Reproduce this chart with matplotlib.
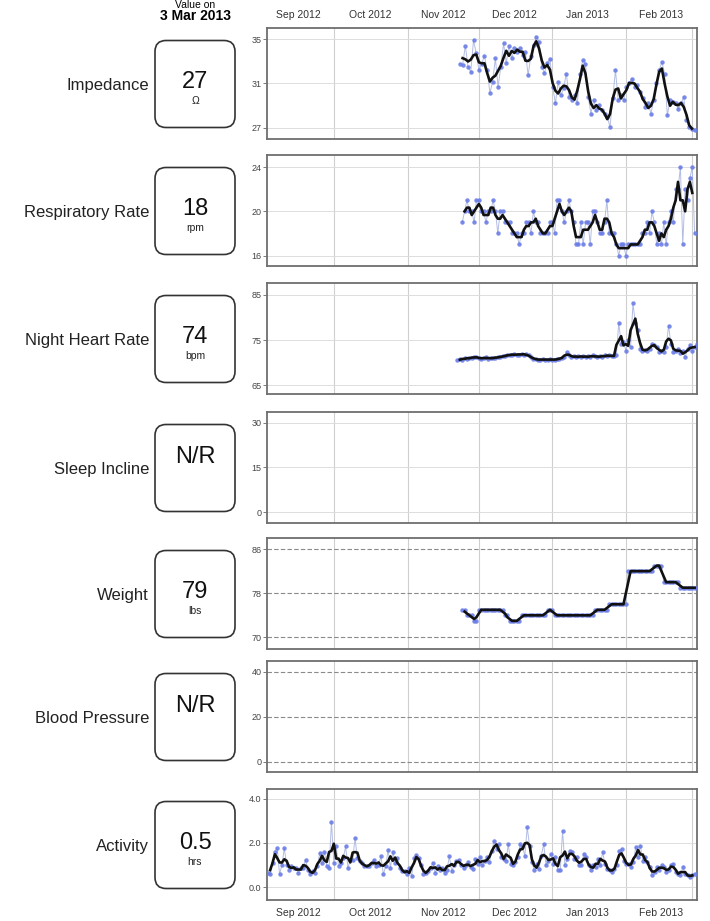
import numpy as np
import pandas as pd
import matplotlib
matplotlib.use('Agg')
import matplotlib.pyplot as plt
import matplotlib.dates as mdates
from matplotlib.ticker import NullFormatter, FormatStrFormatter
from matplotlib.patches import FancyBboxPatch

plt.rcParams['font.family'] = ['Liberation Sans', 'DejaVu Sans']

# ---- data ----
as_of = '3 Mar 2013'
names = ['Impedance', 'Respiratory Rate', 'Night Heart Rate', 'Sleep Incline',
         'Weight', 'Blood Pressure', 'Activity']
latest = ['27', '18', '74', 'N/R', '79', 'N/R', '0.5']
units = ['Ω', 'rpm', 'bpm', '', 'lbs', '', 'hrs']

impedance = [32.80, 32.65, 34.40, 32.50, 32.05, 34.91, 33.71, 32.20, 32.80, 33.47,
             32.20, 30.16, 31.15, 33.26, 30.70, 32.50, 34.61, 32.86, 34.37, 33.26,
             34.16, 33.86, 34.16, 33.56, 33.86, 31.75, 33.47, 34.46, 35.20, 34.76,
             32.50, 31.96, 32.86, 33.17, 30.70, 29.20, 31.15, 29.95, 30.55, 31.90,
             29.80, 29.50, 29.95, 29.20, 31.90, 33.11, 32.80, 29.80, 28.29, 29.50,
             28.59, 29.05, 28.59, 28.29, 27.99, 27.09, 29.65, 32.20, 29.50, 29.95,
             29.50, 30.70, 31.00, 31.45, 30.70, 30.85, 30.25, 29.65, 28.89, 29.20,
             28.29, 29.50, 31.00, 32.20, 32.95, 31.90, 28.14, 29.50, 29.35, 29.20,
             28.74, 29.20, 29.80, 27.69, 27.09, 26.94, 26.79]
impedance_span = ('2012-11-23', '2013-03-02')

resp_rate = [19, 20, 21, 20, 20, 19, 21, 21, 20, 20,
             19, 20, 20, 21, 20, 18, 20, 20, 19, 19,
             19, 18, 18, 18, 17, 18, 18, 19, 19, 18,
             20, 19, 19, 18, 18, 18, 18, 19, 19, 18,
             21, 21, 20, 19, 20, 21, 20, 19, 17, 17,
             19, 17, 19, 19, 17, 20, 20, 19, 18, 18,
             19, 21, 18, 18, 18, 17, 16, 17, 17, 16,
             17, 17, 17, 17, 17, 17, 18, 18, 19, 18,
             20, 19, 17, 18, 17, 19, 17, 19, 20, 19,
             22, 22, 24, 17, 22, 21, 23, 24, 18]
resp_span = ('2012-11-24', '2013-03-02')

night_hr = [70.5, 70.8, 70.7, 71.0, 70.9, 71.1, 71.0, 71.3, 71.2,
            71.1, 70.9, 71.0, 71.2, 70.9, 71.0, 71.1, 71.0, 71.3, 71.2, 71.4, 71.5,
            71.6, 71.8, 71.7, 71.9, 71.7, 71.8, 72.0, 71.7, 71.9, 71.6,
            71.2, 70.9, 70.8, 70.7, 70.6, 70.8, 70.7, 70.6, 70.8,
            70.7, 70.6, 70.8, 70.9, 71.0, 71.3, 72.4,
            71.6, 71.3, 71.5, 71.2, 71.4, 71.3, 71.5, 71.2, 71.4, 71.3, 71.6,
            71.4, 71.2, 71.5, 71.3, 71.6, 71.4, 71.7, 71.5, 71.4, 71.6,
            78.8, 74.2, 74.6, 72.7, 75.0, 73.5, 83.1, 78.8, 77.3, 73.1,
            72.7, 72.9, 72.6, 73.1, 74.2, 73.9, 73.5, 72.4, 72.7, 72.4,
            73.5, 78.2, 74.2, 72.4, 72.7, 73.1, 72.2, 72.6, 71.2, 73.1,
            73.9, 72.7, 73.5, 74.2]
night_hr_span = ('2012-11-22', '2013-03-03')

weight = [75, 75, 74, 74, 74, 73, 73,
          75, 75, 75, 75, 75, 75, 75, 75, 75, 75, 75,
          74, 74, 73, 73, 73, 73, 73,
          74, 74, 74, 74, 74, 74, 74, 74, 74, 74, 74,
          75, 75, 75,
          74, 74, 74, 74, 74, 74, 74, 74, 74, 74, 74, 74, 74, 74, 74, 74, 74,
          75, 75, 75, 75, 75, 75,
          76, 76, 76, 76, 76, 76, 76, 76,
          82, 82, 82, 82, 82, 82, 82, 82, 82, 82, 82,
          83, 83, 83, 83,
          80, 80, 80, 80, 80, 80, 80,
          79, 79, 79, 79, 79, 79, 79, 79]
weight_span = ('2012-11-24', '2013-03-03')

activity = [0.64, 0.57, 1.09, 1.61, 1.76, 0.57, 1.01, 1.76, 1.01, 0.79,
            0.94, 0.87, 0.87, 0.64, 0.87, 0.87, 1.24, 0.79, 0.57, 0.72,
            0.64, 0.94, 1.54, 1.09, 1.61, 0.94, 0.87, 2.96, 1.09, 1.84,
            0.94, 1.09, 1.31, 1.84, 0.87, 1.24, 1.24, 2.21, 1.31, 1.16,
            1.09, 0.94, 0.94, 0.94, 1.09, 1.24, 0.94, 1.01, 1.39, 0.57,
            0.94, 1.69, 0.87, 1.61, 1.09, 1.31, 0.87, 0.72, 0.72, 0.57,
            0.87, 0.49, 1.31, 1.46, 1.31, 1.01, 0.57, 0.64, 0.72, 0.87,
            1.09, 0.64, 0.94, 0.79, 0.87, 0.64, 0.79, 1.39, 0.72, 1.01,
            1.16, 1.24, 1.01, 0.87, 1.01,
            1.13, 0.90, 0.83, 1.28, 1.05, 1.35, 0.98, 1.20, 1.35, 1.13,
            1.65, 2.11, 1.73, 1.95, 1.35, 1.28, 1.20, 1.95, 1.05, 0.98,
            1.13, 1.35, 1.95, 1.80, 1.43, 2.71, 1.88, 1.13, 0.75, 1.05,
            0.83, 1.43, 1.95, 0.98, 1.20, 1.50, 1.05, 1.35, 0.75, 0.75,
            2.56, 0.98, 1.28, 1.65, 1.58, 1.28, 1.35, 0.98, 0.98, 1.50,
            1.35, 0.98, 0.75, 0.98, 0.90, 1.28, 0.98, 1.58, 1.05, 0.83,
            0.75, 0.68, 0.83, 0.98, 1.65, 1.73, 1.20, 1.05, 1.05, 0.90,
            1.13, 1.80, 1.35, 1.88, 1.20, 1.35, 1.13, 0.90, 0.53, 0.68,
            0.90, 0.75, 0.98, 0.90, 0.68, 0.75, 0.98, 1.05, 0.68, 0.60,
            0.53, 0.90, 0.60, 0.53, 0.45, 0.53, 0.60]
activity_span = ('2012-09-03', '2013-03-02')

series = [(impedance, impedance_span), (resp_rate, resp_span), (night_hr, night_hr_span),
          None, (weight, weight_span), None, (activity, activity_span)]
yticks = [[27, 31, 35], [16, 20, 24], [65, 75, 85], [0, 15, 30],
          [70, 78, 86], [0, 20, 40], [0.0, 2.0, 4.0]]
ylims = [(26.0, 36.0), (15.05, 25.1), (63.1, 87.6), (-3.7, 33.7),
         (67.9, 88.0), (-4.6, 44.8), (-0.59, 4.45)]

# ---- layout (pixels) ----
W, H = 710, 921
tops = [28, 155, 283, 412, 538, 661, 789]
ph = 111

fig = plt.figure(figsize=(W / 100, H / 100), dpi=100)

def px_axes(left, top, width, height):
    return fig.add_axes([left / W, 1 - (top + height) / H, width / W, height / H])

xmin = pd.Timestamp('2012-09-02 16:00')
xmax = pd.Timestamp('2013-03-03 00:00')

for i in range(len(names)):
    ax = px_axes(267, tops[i], 430, ph)
    ax.set_xlim(xmin, xmax)
    ax.set_ylim(ylims[i])
    ax.set_yticks(yticks[i])
    if i == 6:
        ax.yaxis.set_major_formatter(FormatStrFormatter('%.1f'))
    ax.xaxis.set_major_locator(mdates.MonthLocator())
    ax.xaxis.set_minor_locator(mdates.MonthLocator(bymonthday=16))
    ax.xaxis.set_major_formatter(NullFormatter())
    ax.xaxis.set_minor_formatter(mdates.DateFormatter('%b %Y'))
    ax.tick_params(axis='x', which='both', length=0, labelsize=7.5,
                   labelcolor='#333333', pad=6,
                   labelbottom=(i == 6), labeltop=(i == 0))
    ax.tick_params(axis='y', length=3, width=0.6, color='#666666',
                   labelsize=6.5, labelcolor='#444444', pad=1)
    ax.grid(axis='x', which='major', color='#cfcfcf', lw=0.8)
    if i in (4, 5):
        ax.grid(axis='y', color='#8a8a8a', lw=0.8, ls=(0, (4, 2)))
    else:
        ax.grid(axis='y', color='#dddddd', lw=0.7)
    ax.set_axisbelow(True)
    for s in ax.spines.values():
        s.set_color('#6e6e6e')
        s.set_linewidth(1.3)

    if series[i] is not None:
        vals, span = series[i]
        dates = pd.date_range(span[0], span[1], periods=len(vals))
        s = pd.Series(vals, index=dates, dtype=float)
        ax.plot(s.index, s.values, color='#b3bde3', lw=0.7, zorder=2)
        ax.plot(s.index, s.values, 'o', color='#6a7de6', ms=3.2, mew=0,
                alpha=0.9, zorder=3)
        smooth = s.rolling(3, center=True).mean()
        ax.plot(smooth.index, smooth.values, color='#111111', lw=1.9, zorder=4)

# ---- left column: labels and value boxes ----
ov = fig.add_axes([0, 0, 1, 1], zorder=-1)
ov.set_xlim(0, W)
ov.set_ylim(H, 0)
ov.axis('off')

ov.text(195, 4.5, 'Value on', ha='center', va='center', fontsize=7.5)
ov.text(195, 16.5, as_of, ha='center', va='center', fontsize=10, fontweight='bold')

for i in range(len(names)):
    cy = tops[i] + ph / 2
    ov.text(149, cy + 2, names[i], ha='right', va='center', fontsize=12,
            color='#222222')
    box = FancyBboxPatch((155, cy - 43), 80, 87,
                         boxstyle='round,pad=0,rounding_size=11',
                         fc='white', ec='#333333', lw=1.2)
    ov.add_patch(box)
    if units[i]:
        ov.text(195, cy - 2, latest[i], ha='center', va='center', fontsize=17,
                color='#111111')
        ov.text(195, cy + 17, units[i], ha='center', va='center', fontsize=7.5,
                color='#222222')
    else:
        ov.text(195, cy - 11, latest[i], ha='center', va='center', fontsize=17,
                color='#111111')

fig.savefig('out.png', dpi=100)
